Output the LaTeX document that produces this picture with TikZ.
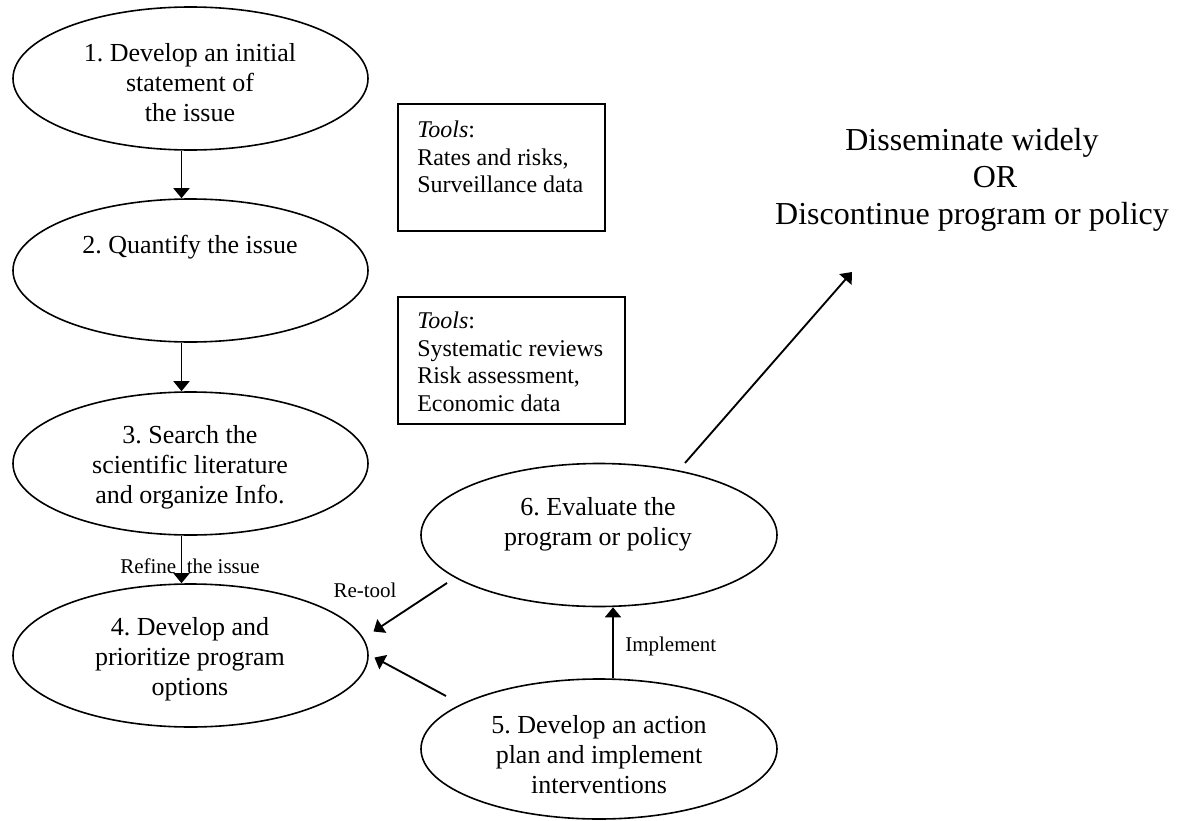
\documentclass[tikz,border=0pt]{standalone}
\usepackage{fontspec}
\setmainfont{Liberation Serif}
\usetikzlibrary{arrows.meta,calc,shapes.geometric}
\begin{document}
\frenchspacing
\begin{tikzpicture}[x=0.75pt,y=-0.75pt,
  oval/.style={draw,ellipse,line width=1.2pt,inner sep=0pt,minimum width=266.25pt,minimum height=107.25pt},
  ovaltext/.style={align=center,inner sep=0pt,font=\fontsize{19.5pt}{22.5pt}\selectfont},
  toolbox/.style={draw,rectangle,line width=1.2pt,inner sep=0pt,anchor=north west},
  tooltext/.style={align=left,inner sep=0pt,anchor=north west,font=\fontsize{18pt}{20.7pt}\selectfont},
  lbl/.style={inner sep=0pt,font=\fontsize{15.75pt}{18pt}\selectfont},
  arr/.style={line width=1.4pt,-{Triangle[length=7.5pt,width=12pt]}}
]
\useasboundingbox (0,0) rectangle (1179,821);

% ovals
\node[oval] (e1) at (190.5,78.5) {};
\node[oval] (e2) at (190.5,270.5) {};
\node[oval] (e3) at (190.5,463.5) {};
\node[oval] (e4) at (190.5,655.5) {};
\node[oval,minimum width=267pt] (e6) at (599,535) {};
\node[oval,minimum width=267pt,minimum height=105pt] (e5) at (599,749) {};

% oval texts
\node[ovaltext] (t1) at (190,83) {1. Develop an initial\\statement of\\the issue};
\node[ovaltext] (t2) at (190,247) {2. Quantify the issue};
\node[ovaltext] (t3) at (190,467) {3. Search the\\scientific literature\\and organize Info.};
\node[ovaltext] (t4) at (190,659) {4. Develop and\\prioritize program\\options};
\node[ovaltext] (t6) at (598,524) {6. Evaluate the\\program or policy};
\node[ovaltext] (t5) at (599,755) {5. Develop an action\\plan and implement\\interventions};

% tool boxes
\node[toolbox,minimum width=155.25pt,minimum height=95.25pt] (b1) at (397,103) {};
\node[tooltext] (tb1) at (417,120.5) {\textit{Tools}:\\Rates and risks,\\Surveillance data};
\node[toolbox,minimum width=170.25pt,minimum height=95.25pt] (b2) at (397,296) {};
\node[tooltext] (tb2) at (417,311.5) {\textit{Tools}:\\Systematic reviews\\Risk assessment,\\Economic data};

% outcome text
\node[align=center,inner sep=0pt,font=\fontsize{24pt}{27.75pt}\selectfont] (dis) at (972,180)
  {Disseminate widely\\\hspace*{34.5pt}OR\\Discontinue program or policy};
\coordinate (dtip) at (852,272);

% connectors
\draw[arr] ($(e1.south)+(-9,0)$) -- ($(e2.north)+(-9,0)$);
\draw[arr] ($(e2.south)+(-9,0)$) -- ($(e3.north)+(-9,0)$);
\draw[arr] ($(e3.south)+(-9,0)$) -- ($(e4.north)+(-9,0)$);
\draw[arr] ($(e6.center)+(-152,48)$) -- ($(e4.center)+(183,-24)$);
\draw[arr] ($(e5.center)+(-153,-53)$) -- ($(e4.center)+(184,2)$);
\draw[arr] ($(e5.north)+(14,0)$) -- ($(e6.south)+(14,0)$);
\draw[arr] ($(e6.center)+(86,-72)$) -- (dtip);

% labels
\node[lbl] (lrefine) at (190,566) {Refine\ \ the issue};
\node[lbl] (lretool) at (365,590) {Re-tool};
\node[lbl,anchor=west] (limpl) at (625,646) {Implement};
\end{tikzpicture}
\end{document}
